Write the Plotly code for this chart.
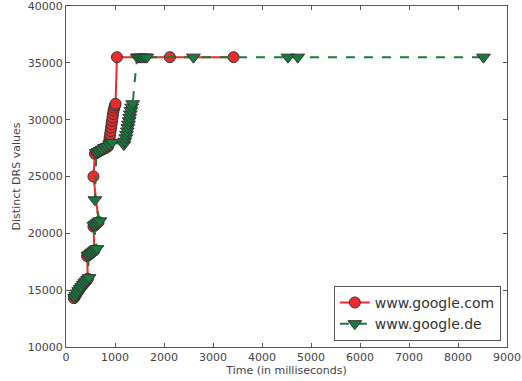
import plotly.graph_objects as go

# www.google.com (red circles)
com_x = [160, 185, 210, 240, 270, 300, 330, 360, 390, 420, 445,
         430, 460, 490, 520, 550, 580,
         560, 585, 610, 640, 665,
         560,
         590, 630, 670, 710, 760, 810, 860,
         880, 890, 900, 910, 920, 930, 940, 950, 960, 970, 985, 1000, 1010,
         1040, 2120, 3420]
com_y = [14300, 14450, 14650, 14850, 15050, 15250, 15400, 15550, 15700, 15850, 16000,
         18000, 18100, 18200, 18300, 18400, 18500,
         20600, 20700, 20800, 20900, 21000,
         25000,
         27000, 27100, 27200, 27300, 27400, 27500, 27650,
         28100, 28400, 28700, 29000, 29300, 29600, 29900, 30200, 30500, 30800, 31050, 31250, 31400,
         35500, 35500, 35500]

# www.google.de (green triangles)
de_x = [175, 200, 230, 260, 290, 320, 350, 380, 410, 440, 470,
        450, 480, 510, 540, 570, 600, 630,
        570, 600, 630, 660, 690,
        590,
        620, 660, 700, 740, 790, 840, 890, 940,
        1180, 1200, 1220, 1235, 1250, 1262, 1275, 1288, 1300, 1312, 1325, 1340, 1360,
        1450, 1490, 1530, 1570, 1610, 1650, 2600, 4530, 4730, 8520]
de_y = [14350, 14550, 14750, 14950, 15150, 15300, 15500, 15650, 15800, 15950, 16100,
        18050, 18150, 18250, 18350, 18450, 18550, 18650,
        20700, 20800, 20900, 21000, 21100,
        22950,
        27100, 27200, 27300, 27400, 27550, 27650, 27800, 28000,
        27800, 28100, 28400, 28700, 29000, 29300, 29600, 29900, 30200, 30500, 30800, 31100, 31400,
        35500, 35500, 35500, 35500, 35500, 35500, 35500, 35500, 35500, 35500]

x_ticks = [0, 1000, 2000, 3000, 4000, 5000, 6000, 7000, 8000, 9000]
y_ticks = [10000, 15000, 20000, 25000, 30000, 35000, 40000]

RED = "#EE2A2A"
GREEN = "#187A3C"
EDGE = "#333333"

fig = go.Figure()
fig.add_trace(go.Scatter(
    x=com_x, y=com_y, mode="lines+markers", name="www.google.com",
    line=dict(color=RED, width=2),
    marker=dict(symbol="circle", size=11, color=RED, line=dict(color=EDGE, width=1)),
))
fig.add_trace(go.Scatter(
    x=de_x, y=de_y, mode="lines+markers", name="www.google.de",
    line=dict(color=GREEN, width=2, dash="dash"),
    marker=dict(symbol="triangle-down", size=12, color=GREEN, line=dict(color=EDGE, width=1)),
))

axis_common = dict(
    showline=True, linecolor="#555555", linewidth=1, mirror="ticks",
    ticks="inside", ticklen=4, tickcolor="#555555", tickwidth=1,
    showgrid=False, zeroline=False, ticklabeloverflow="allow", automargin=False,
    tickfont=dict(family="DejaVu Sans", size=11, color="#444444"),
)

fig.update_layout(
    width=522, height=381,
    margin=dict(l=66, r=15, t=6, b=34),
    paper_bgcolor="white", plot_bgcolor="white",
    font=dict(family="DejaVu Sans", color="#444444"),
    xaxis=dict(range=[0, 9000], tickvals=x_ticks, ticktext=[str(v) for v in x_ticks],
               title=dict(text="Time (in milliseconds)", font=dict(size=11), standoff=2),
               **axis_common),
    yaxis=dict(range=[10000, 40000], tickvals=y_ticks, ticktext=[str(v) for v in y_ticks],
               title=dict(text="Distinct DRS values", font=dict(size=11), standoff=4),
               **axis_common),
    legend=dict(x=0.986, y=0.018, xanchor="right", yanchor="bottom",
                bordercolor="#555555", borderwidth=1, bgcolor="white",
                font=dict(family="DejaVu Sans", size=14, color="#333333"),
                tracegroupgap=0),
    showlegend=True,
)

fig.write_html("out.html")
